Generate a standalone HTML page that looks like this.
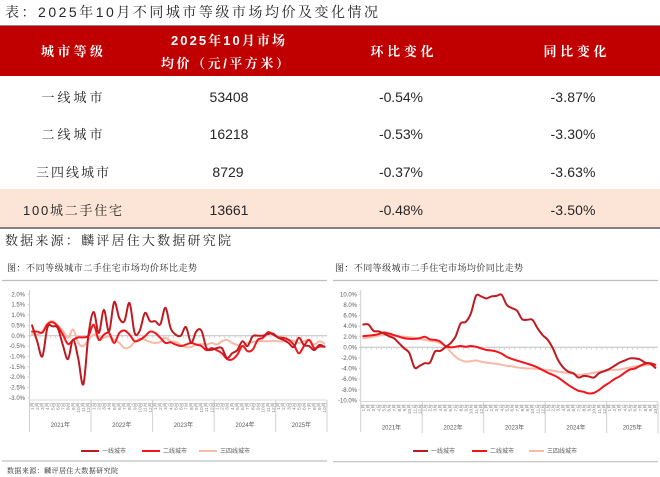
<!DOCTYPE html>
<html><head><meta charset="utf-8">
<style>
html,body{margin:0;padding:0;background:#fff;}
svg{display:block;}
.cj{font-family:"Liberation Sans","Noto Sans CJK SC",sans-serif;}
.sf{font-family:"Liberation Sans","Noto Serif CJK SC",serif;}
.s{fill:none;stroke-linejoin:round;stroke-linecap:round;vector-effect:non-scaling-stroke;}
.t1{stroke:#be1a20;stroke-width:2;}
.t2{stroke:#f4141a;stroke-width:2;}
.t3{stroke:#f8b9a6;stroke-width:2;}
.ax{font-family:"Liberation Sans","Noto Sans CJK SC",sans-serif;font-size:6px;fill:#595959;}
.mo text{font-family:"Liberation Sans","Noto Sans CJK SC",sans-serif;font-size:4.8px;fill:#7f7f7f;text-anchor:end;}
.lg{font-family:"Liberation Sans","Noto Sans CJK SC",sans-serif;font-size:6px;fill:#595959;}
</style></head>
<body>
<svg width="660" height="477" viewBox="0 0 660 477" xmlns="http://www.w3.org/2000/svg">
<rect width="660" height="477" fill="#fff"/>
<!-- Title -->
<text class="sf" x="5" y="17" font-size="14" fill="#262626" textLength="373" lengthAdjust="spacing">表：2025年10月不同城市等级市场均价及变化情况</text>
<!-- table -->
<line x1="0" y1="25.5" x2="660" y2="25.5" stroke="#8a8a8a" stroke-width="1"/>
<rect x="0" y="26" width="660" height="50" fill="#c00000"/>
<rect x="0" y="189" width="660" height="38" fill="#fce4d6"/>
<line x1="0" y1="228" x2="660" y2="228" stroke="#595959" stroke-width="1.6"/>
<g class="sf" font-weight="bold" fill="#fff" font-size="13" text-anchor="middle">
<text x="72" y="56" textLength="62" lengthAdjust="spacing">城市等级</text>
<text x="228" y="45" textLength="114" lengthAdjust="spacing">2025年10月市场</text>
<text x="225" y="68" textLength="128" lengthAdjust="spacing">均价（元/平方米）</text>
<text x="402" y="56" textLength="63" lengthAdjust="spacing">环比变化</text>
<text x="575" y="56" textLength="63" lengthAdjust="spacing">同比变化</text>
</g>
<g class="sf" fill="#262626" font-size="13" text-anchor="middle">
<text x="72" y="102" textLength="61" lengthAdjust="spacing">一线城市</text>
<text x="72" y="139" textLength="61" lengthAdjust="spacing">二线城市</text>
<text x="72.5" y="177" textLength="73" lengthAdjust="spacing">三四线城市</text>
<text x="72.5" y="215" textLength="99" lengthAdjust="spacing">100城二手住宅</text>
</g>
<g class="cj" fill="#262626" font-size="14" text-anchor="middle">
<text x="229" y="102">53408</text>
<text x="229" y="139">16218</text>
<text x="228" y="177">8729</text>
<text x="229" y="215">13661</text>
<text x="401" y="102" textLength="44" lengthAdjust="spacing">-0.54%</text>
<text x="401" y="139" textLength="44" lengthAdjust="spacing">-0.53%</text>
<text x="401" y="177" textLength="44" lengthAdjust="spacing">-0.37%</text>
<text x="401" y="215" textLength="44" lengthAdjust="spacing">-0.48%</text>
<text x="573" y="102" textLength="45" lengthAdjust="spacing">-3.87%</text>
<text x="573" y="139" textLength="45" lengthAdjust="spacing">-3.30%</text>
<text x="573" y="177" textLength="45" lengthAdjust="spacing">-3.63%</text>
<text x="573" y="215" textLength="45" lengthAdjust="spacing">-3.50%</text>
</g>
<text class="sf" x="5" y="245" font-size="13" fill="#262626" textLength="226" lengthAdjust="spacing">数据来源：麟评居住大数据研究院</text>

<!-- ============ LEFT CHART ============ -->
<text class="sf" x="7" y="271" font-size="9" fill="#262626" textLength="190" lengthAdjust="spacing">图：不同等级城市二手住宅市场均价环比走势</text>
<line x1="2" y1="280.5" x2="327" y2="280.5" stroke="#bfbfbf" stroke-width="1.2"/>
<g class="ax" text-anchor="end">
<text x="25" y="296.4">2.0%</text>
<text x="25" y="306.7">1.5%</text>
<text x="25" y="317.1">1.0%</text>
<text x="25" y="327.4">0.5%</text>
<text x="25" y="337.8">0.0%</text>
<text x="25" y="348.1">-0.5%</text>
<text x="25" y="358.4">-1.0%</text>
<text x="25" y="368.8">-1.5%</text>
<text x="25" y="379.1">-2.0%</text>
<text x="25" y="389.5">-2.5%</text>
<text x="25" y="399.8">-3.0%</text>
</g>
<line x1="29.5" y1="290" x2="29.5" y2="432" stroke="#d0d0d0" stroke-width="1"/>
<path d="M27.5 294.3H29.5M27.5 304.6H29.5M27.5 315H29.5M27.5 325.3H29.5M27.5 335.7H29.5M27.5 346H29.5M27.5 356.3H29.5M27.5 366.7H29.5M27.5 377H29.5M27.5 387.4H29.5M27.5 397.7H29.5" stroke="#d0d0d0" stroke-width="1"/>
<line x1="29.5" y1="335.7" x2="327" y2="335.7" stroke="#bfbfbf" stroke-width="1"/>
<line x1="29.5" y1="337.2" x2="327" y2="337.2" stroke="#bfbfbf" stroke-width="2" stroke-dasharray="0.6 4.53"/>
<line x1="29.5" y1="400" x2="327" y2="400" stroke="#d9d9d9" stroke-width="1"/>
<path d="M91.06 400V432M152.62 400V432M214.18 400V432M275.74 400V432M327 400V432" stroke="#d0d0d0" stroke-width="1"/>
<!-- month labels left -->
<g class="mo">
<g transform="translate(29.5,402.5)"><text transform="translate(4.27,0) rotate(-90)">1月</text><text transform="translate(9.40,0) rotate(-90)">2月</text><text transform="translate(14.53,0) rotate(-90)">3月</text><text transform="translate(19.66,0) rotate(-90)">4月</text><text transform="translate(24.79,0) rotate(-90)">5月</text><text transform="translate(29.92,0) rotate(-90)">6月</text><text transform="translate(35.05,0) rotate(-90)">7月</text><text transform="translate(40.18,0) rotate(-90)">8月</text><text transform="translate(45.31,0) rotate(-90)">9月</text><text transform="translate(50.44,0) rotate(-90)">10月</text><text transform="translate(55.57,0) rotate(-90)">11月</text><text transform="translate(60.70,0) rotate(-90)">12月</text></g>
<g transform="translate(91.06,402.5)"><text transform="translate(4.27,0) rotate(-90)">1月</text><text transform="translate(9.40,0) rotate(-90)">2月</text><text transform="translate(14.53,0) rotate(-90)">3月</text><text transform="translate(19.66,0) rotate(-90)">4月</text><text transform="translate(24.79,0) rotate(-90)">5月</text><text transform="translate(29.92,0) rotate(-90)">6月</text><text transform="translate(35.05,0) rotate(-90)">7月</text><text transform="translate(40.18,0) rotate(-90)">8月</text><text transform="translate(45.31,0) rotate(-90)">9月</text><text transform="translate(50.44,0) rotate(-90)">10月</text><text transform="translate(55.57,0) rotate(-90)">11月</text><text transform="translate(60.70,0) rotate(-90)">12月</text></g>
<g transform="translate(152.62,402.5)"><text transform="translate(4.27,0) rotate(-90)">1月</text><text transform="translate(9.40,0) rotate(-90)">2月</text><text transform="translate(14.53,0) rotate(-90)">3月</text><text transform="translate(19.66,0) rotate(-90)">4月</text><text transform="translate(24.79,0) rotate(-90)">5月</text><text transform="translate(29.92,0) rotate(-90)">6月</text><text transform="translate(35.05,0) rotate(-90)">7月</text><text transform="translate(40.18,0) rotate(-90)">8月</text><text transform="translate(45.31,0) rotate(-90)">9月</text><text transform="translate(50.44,0) rotate(-90)">10月</text><text transform="translate(55.57,0) rotate(-90)">11月</text><text transform="translate(60.70,0) rotate(-90)">12月</text></g>
<g transform="translate(214.18,402.5)"><text transform="translate(4.27,0) rotate(-90)">1月</text><text transform="translate(9.40,0) rotate(-90)">2月</text><text transform="translate(14.53,0) rotate(-90)">3月</text><text transform="translate(19.66,0) rotate(-90)">4月</text><text transform="translate(24.79,0) rotate(-90)">5月</text><text transform="translate(29.92,0) rotate(-90)">6月</text><text transform="translate(35.05,0) rotate(-90)">7月</text><text transform="translate(40.18,0) rotate(-90)">8月</text><text transform="translate(45.31,0) rotate(-90)">9月</text><text transform="translate(50.44,0) rotate(-90)">10月</text><text transform="translate(55.57,0) rotate(-90)">11月</text><text transform="translate(60.70,0) rotate(-90)">12月</text></g>
<g transform="translate(275.74,402.5)"><text transform="translate(4.27,0) rotate(-90)">1月</text><text transform="translate(9.40,0) rotate(-90)">2月</text><text transform="translate(14.53,0) rotate(-90)">3月</text><text transform="translate(19.66,0) rotate(-90)">4月</text><text transform="translate(24.79,0) rotate(-90)">5月</text><text transform="translate(29.92,0) rotate(-90)">6月</text><text transform="translate(35.05,0) rotate(-90)">7月</text><text transform="translate(40.18,0) rotate(-90)">8月</text><text transform="translate(45.31,0) rotate(-90)">9月</text><text transform="translate(50.44,0) rotate(-90)">10月</text></g>
</g>
<g class="ax" text-anchor="middle">
<text x="60.3" y="427">2021年</text>
<text x="121.8" y="427">2022年</text>
<text x="183.4" y="427">2023年</text>
<text x="245" y="427">2024年</text>
<text x="301.4" y="427">2025年</text>
</g>
<g transform="translate(32.07,335.7) scale(5.13,-20.68)">
<polyline class="s t3" points="0,0.08 1,0.05 2,0.2 3,0.6 4,0.7 5,0.5 6,0.25 7,-0.1 8,0.3 9,-0.35 10,-0.5 11,-0.2 12,0.05 13,-0.03 14,-0.1 15,-0.03 16,-0.2 17,-0.35 18,-0.6 19,-0.55 20,-0.3 21,-0.15 22,-0.2 23,-0.3 24,-0.35 25,-0.3 26,-0.1 27,-0.27 28,-0.3 29,-0.45 30,-0.55 31,-0.55 32,-0.43 33,-0.4 34,-0.43 35,-0.35 36,-0.43 37,-0.27 38,-0.2 39,-0.35 40,-0.45 41,-0.5 42,-0.35 43,-0.3 44,-0.27 45,-0.27 46,-0.27 47,-0.25 48,-0.27 49,-0.27 50,-0.2 51,-0.25 52,-0.35 53,-0.27 54,-0.2 55,-0.43 56,-0.27 57,-0.37"/>
<polyline class="s t2" points="0,0.2 1,0.2 2,0.15 3,0.55 4,0.65 5,0.45 6,0.05 7,-0.4 8,-0.2 9,-0.08 10,-0.08 11,0 12,0.53 13,-0.2 14,0.05 15,0.13 16,-0.35 17,0.13 18,0.25 19,0.05 20,-0.27 21,-0.2 22,-0.03 23,0.2 24,0.13 25,-0.1 26,-0.35 27,-0.32 28,-0.43 29,-0.5 30,-0.43 31,-0.35 32,-0.43 33,-0.5 34,-0.7 35,-0.6 36,-0.7 37,-0.85 38,-1.13 39,-1.15 40,-0.92 41,-0.5 42,-0.75 43,-0.68 44,-0.2 45,-0.1 46,0.17 47,0.05 48,-0.08 49,-0.1 50,-0.2 51,-0.43 52,-0.85 53,-0.5 54,-0.2 55,-0.6 56,-0.53 57,-0.53"/>
<polyline class="s t1" points="0,0.5 1,-0.27 2,-1 3,0.4 4,0.45 5,0.37 6,-0.45 7,-1.13 8,-0.2 9,-1.1 10,-2.35 11,0.05 12,1.15 13,0.13 14,1.25 15,0.2 16,1.63 17,0.85 18,0.7 19,1.58 20,0.13 21,0.25 22,1.1 23,0.7 24,0.7 25,0.55 26,1.35 27,0.37 28,0.05 29,0 30,0.42 31,-0.35 32,0.2 33,0.25 34,-0.6 35,-0.68 36,-0.6 37,-0.6 38,-1.08 39,-0.85 40,-0.7 41,-0.27 42,-0.5 43,-0.03 44,0 45,0 46,0.08 47,0.1 48,-0.1 49,-0.2 50,-0.35 51,-0.55 52,-0.1 53,-0.45 54,-0.5 55,-0.7 56,-0.45 57,-0.54"/>
</g>
<!-- legend left -->
<line x1="81" y1="451" x2="99" y2="451" class="t1" stroke-width="2"/>
<text class="lg" x="102" y="453.2">一线城市</text>
<line x1="142" y1="451" x2="160" y2="451" class="t2" stroke-width="2"/>
<text class="lg" x="163" y="453.2">二线城市</text>
<line x1="199" y1="451" x2="217" y2="451" class="t3" stroke-width="2"/>
<text class="lg" x="220" y="453.2">三四线城市</text>
<line x1="2" y1="461" x2="327" y2="461" stroke="#bfbfbf" stroke-width="1.2"/>
<text class="sf" x="7" y="473" font-size="7" fill="#262626" textLength="111" lengthAdjust="spacing">数据来源：麟评居住大数据研究院</text>

<!-- ============ RIGHT CHART ============ -->
<text class="sf" x="335" y="271" font-size="9" fill="#262626" textLength="188" lengthAdjust="spacing">图：不同等级城市二手住宅市场均价同比走势</text>
<line x1="333" y1="280.5" x2="658" y2="280.5" stroke="#bfbfbf" stroke-width="1.2"/>
<g class="ax" text-anchor="end">
<text x="357" y="296.4">10.0%</text>
<text x="357" y="307">8.0%</text>
<text x="357" y="317.6">6.0%</text>
<text x="357" y="328.2">4.0%</text>
<text x="357" y="338.8">2.0%</text>
<text x="357" y="349.4">0.0%</text>
<text x="357" y="360">-2.0%</text>
<text x="357" y="370.6">-4.0%</text>
<text x="357" y="381.2">-6.0%</text>
<text x="357" y="391.8">-8.0%</text>
<text x="357" y="402.4">-10.0%</text>
</g>
<line x1="360.7" y1="290" x2="360.7" y2="432" stroke="#d0d0d0" stroke-width="1"/>
<path d="M358.7 294.3H360.7M358.7 304.9H360.7M358.7 315.5H360.7M358.7 326.1H360.7M358.7 336.7H360.7M358.7 347.3H360.7M358.7 357.9H360.7M358.7 368.5H360.7M358.7 379.1H360.7M358.7 389.7H360.7M358.7 400.3H360.7" stroke="#d0d0d0" stroke-width="1"/>
<line x1="360.7" y1="347.3" x2="658" y2="347.3" stroke="#bfbfbf" stroke-width="1"/>
<line x1="360.7" y1="348.8" x2="658" y2="348.8" stroke="#bfbfbf" stroke-width="2" stroke-dasharray="0.6 4.525"/>
<line x1="360.7" y1="401.5" x2="658" y2="401.5" stroke="#d9d9d9" stroke-width="1"/>
<path d="M422.2 401.5V433M483.7 401.5V433M545.2 401.5V433M606.7 401.5V433M658 401.5V433" stroke="#d0d0d0" stroke-width="1"/>
<g class="mo">
<g transform="translate(360.7,404)"><text transform="translate(4.27,0) rotate(-90)">1月</text><text transform="translate(9.40,0) rotate(-90)">2月</text><text transform="translate(14.53,0) rotate(-90)">3月</text><text transform="translate(19.66,0) rotate(-90)">4月</text><text transform="translate(24.79,0) rotate(-90)">5月</text><text transform="translate(29.92,0) rotate(-90)">6月</text><text transform="translate(35.05,0) rotate(-90)">7月</text><text transform="translate(40.18,0) rotate(-90)">8月</text><text transform="translate(45.31,0) rotate(-90)">9月</text><text transform="translate(50.44,0) rotate(-90)">10月</text><text transform="translate(55.57,0) rotate(-90)">11月</text><text transform="translate(60.70,0) rotate(-90)">12月</text></g>
<g transform="translate(422.2,404)"><text transform="translate(4.27,0) rotate(-90)">1月</text><text transform="translate(9.40,0) rotate(-90)">2月</text><text transform="translate(14.53,0) rotate(-90)">3月</text><text transform="translate(19.66,0) rotate(-90)">4月</text><text transform="translate(24.79,0) rotate(-90)">5月</text><text transform="translate(29.92,0) rotate(-90)">6月</text><text transform="translate(35.05,0) rotate(-90)">7月</text><text transform="translate(40.18,0) rotate(-90)">8月</text><text transform="translate(45.31,0) rotate(-90)">9月</text><text transform="translate(50.44,0) rotate(-90)">10月</text><text transform="translate(55.57,0) rotate(-90)">11月</text><text transform="translate(60.70,0) rotate(-90)">12月</text></g>
<g transform="translate(483.7,404)"><text transform="translate(4.27,0) rotate(-90)">1月</text><text transform="translate(9.40,0) rotate(-90)">2月</text><text transform="translate(14.53,0) rotate(-90)">3月</text><text transform="translate(19.66,0) rotate(-90)">4月</text><text transform="translate(24.79,0) rotate(-90)">5月</text><text transform="translate(29.92,0) rotate(-90)">6月</text><text transform="translate(35.05,0) rotate(-90)">7月</text><text transform="translate(40.18,0) rotate(-90)">8月</text><text transform="translate(45.31,0) rotate(-90)">9月</text><text transform="translate(50.44,0) rotate(-90)">10月</text><text transform="translate(55.57,0) rotate(-90)">11月</text><text transform="translate(60.70,0) rotate(-90)">12月</text></g>
<g transform="translate(545.2,404)"><text transform="translate(4.27,0) rotate(-90)">1月</text><text transform="translate(9.40,0) rotate(-90)">2月</text><text transform="translate(14.53,0) rotate(-90)">3月</text><text transform="translate(19.66,0) rotate(-90)">4月</text><text transform="translate(24.79,0) rotate(-90)">5月</text><text transform="translate(29.92,0) rotate(-90)">6月</text><text transform="translate(35.05,0) rotate(-90)">7月</text><text transform="translate(40.18,0) rotate(-90)">8月</text><text transform="translate(45.31,0) rotate(-90)">9月</text><text transform="translate(50.44,0) rotate(-90)">10月</text><text transform="translate(55.57,0) rotate(-90)">11月</text><text transform="translate(60.70,0) rotate(-90)">12月</text></g>
<g transform="translate(606.7,404)"><text transform="translate(4.27,0) rotate(-90)">1月</text><text transform="translate(9.40,0) rotate(-90)">2月</text><text transform="translate(14.53,0) rotate(-90)">3月</text><text transform="translate(19.66,0) rotate(-90)">4月</text><text transform="translate(24.79,0) rotate(-90)">5月</text><text transform="translate(29.92,0) rotate(-90)">6月</text><text transform="translate(35.05,0) rotate(-90)">7月</text><text transform="translate(40.18,0) rotate(-90)">8月</text><text transform="translate(45.31,0) rotate(-90)">9月</text><text transform="translate(50.44,0) rotate(-90)">10月</text></g>
</g>
<g class="ax" text-anchor="middle">
<text x="391.5" y="429.5">2021年</text>
<text x="453" y="429.5">2022年</text>
<text x="514.5" y="429.5">2023年</text>
<text x="576" y="429.5">2024年</text>
<text x="632.4" y="429.5">2025年</text>
</g>
<g transform="translate(363.26,347.3) scale(5.125,-5.3)">
<polyline class="s t3" points="0,1.7 1,1.8 2,2 3,2.2 4,2.3 5,2.3 6,2.2 7,2.1 8,2 9,1.9 10,1.8 11,1.6 12,1.4 13,1.2 14,1.1 15,0.8 16,0.25 17,-0.8 18,-1.8 19,-2.4 20,-2.7 21,-2.6 22,-2.5 23,-2.7 24,-2.9 25,-3 26,-3.1 27,-3.3 28,-3.5 29,-3.6 30,-3.8 31,-3.9 32,-4 33,-4 34,-4.1 35,-4.2 36,-4.3 37,-4.4 38,-4.6 39,-4.7 40,-4.9 41,-5 42,-5.2 43,-5.1 44,-5 45,-4.8 46,-4.6 47,-4.5 48,-4.3 49,-4.25 50,-4.2 51,-4 52,-3.8 53,-3.6 54,-3.5 55,-3.4 56,-3.3 57,-3.63"/>
<polyline class="s t2" points="0,2.1 1,2.2 2,2.3 3,2.5 4,2.8 5,2.6 6,2.3 7,2 8,1.7 9,1.6 10,1.6 11,1.7 12,2 13,1.5 14,1.4 15,1.1 16,0.25 17,0 18,0.1 19,0.25 20,0.1 21,0.25 22,0.1 23,-0.2 24,-0.5 25,-0.6 26,-0.8 27,-1.2 28,-1.8 29,-2.2 30,-2.5 31,-2.8 32,-3.1 33,-3.4 34,-3.8 35,-4.3 36,-4.8 37,-5.2 38,-5.7 39,-6.4 40,-7.1 41,-7.7 42,-8.2 43,-8.4 44,-8.7 45,-8.6 46,-8.05 47,-7.3 48,-6.7 49,-6 50,-5.5 51,-4.8 52,-4.2 53,-4 54,-3.5 55,-3.1 56,-3 57,-3.3"/>
<polyline class="s t1" points="0,4.3 1,4.3 2,3.1 3,3 4,2.6 5,2.1 6,1.7 7,0.75 8,-0.2 9,-1.1 10,-3.8 11,-3.5 12,-3 13,-2.9 14,-0.8 15,-0.7 16,0 17,0.75 18,2 19,4.5 20,4.8 21,6.4 22,9.7 23,9.6 24,9.2 25,9.6 26,9.7 27,9.9 28,8 29,7.4 30,6.9 31,5.3 32,5.2 33,5.2 34,3.6 35,2.3 36,1.4 37,-0.2 38,-2.4 39,-3.8 40,-4.6 41,-4.9 42,-5.7 43,-5.4 44,-5.5 45,-5.7 46,-4.9 47,-4.5 48,-4.1 49,-3.5 50,-2.9 51,-2.5 52,-2.1 53,-2.1 54,-2.3 55,-2.9 56,-3.1 57,-3.87"/>
</g>
<line x1="413" y1="451" x2="428" y2="451" class="t1" stroke-width="2"/>
<text class="lg" x="431" y="453.2">一线城市</text>
<line x1="472" y1="451" x2="487" y2="451" class="t2" stroke-width="2"/>
<text class="lg" x="490" y="453.2">二线城市</text>
<line x1="529" y1="451" x2="544" y2="451" class="t3" stroke-width="2"/>
<text class="lg" x="547" y="453.2">三四线城市</text>
<line x1="333" y1="461.7" x2="658" y2="461.7" stroke="#bfbfbf" stroke-width="1.2"/>
</svg>
<script>
(function(){
var ns='http://www.w3.org/2000/svg';
var pl=document.querySelectorAll('polyline.s');
for(var k=0;k<pl.length;k++){
var p=pl[k];
var pts=p.getAttribute('points').trim().split(/\s+/).map(function(s){return s.split(',').map(Number);});
var d='M'+pts[0][0]+','+pts[0][1];
for(var i=0;i<pts.length-1;i++){
var p0=pts[i-1]||pts[i],p1=pts[i],p2=pts[i+1],p3=pts[i+2]||p2;
var c1x=p1[0]+(p2[0]-p0[0])/6,c1y=p1[1]+(p2[1]-p0[1])/6;
var c2x=p2[0]-(p3[0]-p1[0])/6,c2y=p2[1]-(p3[1]-p1[1])/6;
d+=' C'+c1x+','+c1y+' '+c2x+','+c2y+' '+p2[0]+','+p2[1];
}
var path=document.createElementNS(ns,'path');
path.setAttribute('d',d);
path.setAttribute('class',p.getAttribute('class'));
p.parentNode.replaceChild(path,p);
}
})();
</script>
</body></html>
